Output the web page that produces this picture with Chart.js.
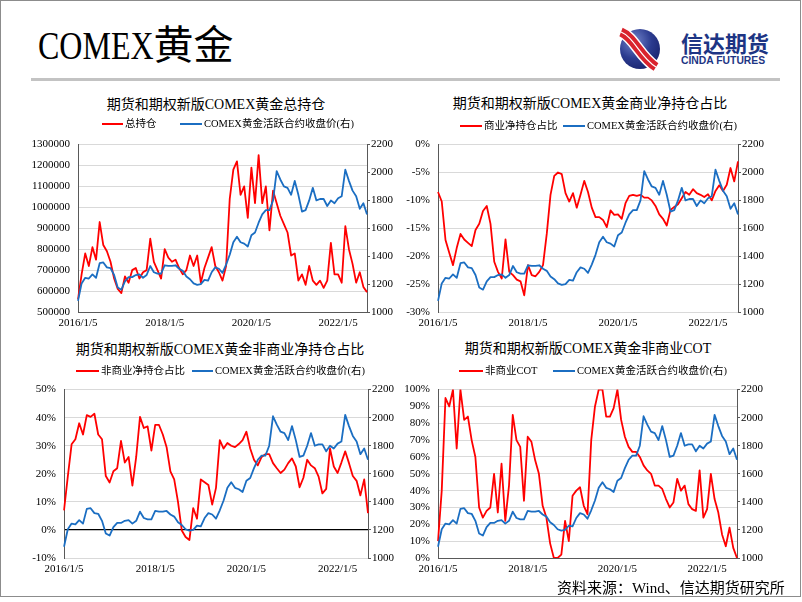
<!DOCTYPE html>
<html>
<head>
<meta charset="utf-8">
<script src="https://cdn.jsdelivr.net/npm/chart.js@4.4.0/dist/chart.umd.min.js"></script>
<style>
  body { margin: 0; width: 802px; height: 602px; overflow: hidden; position: relative; background: #fff;
         font-family: "Liberation Serif", "Noto Sans CJK SC", serif; color: #000; }
  .frame { position: absolute; left: 0; top: 0; width: 801px; height: 597px; box-sizing: border-box; border: 1.5px solid #8c8c8c; }
  .main-title { position: absolute; left: 38px; top: 22px; font-size: 40px; line-height: 48px; white-space: nowrap; }
  .main-title .lat { display: inline-block; transform: scaleX(0.8); transform-origin: left center; margin-right: -29px; }
  .rule { position: absolute; left: 31px; top: 78px; width: 749px; height: 3px; background: #c3c3c3; }
  .logo { position: absolute; left: 618px; top: 27px; }
  .brand { position: absolute; left: 681px; top: 30px; font-family: "Noto Sans CJK SC", sans-serif; font-weight: bold;
           font-size: 22px; line-height: 24px; color: #1d3584; white-space: nowrap; }
  .brand-en { position: absolute; left: 681px; top: 54px; font-family: "Liberation Sans Narrow", "Liberation Sans", sans-serif;
              font-weight: bold; font-size: 11.5px; line-height: 13px; color: #1d3584; white-space: nowrap;
              transform: scaleX(0.9); transform-origin: left center; }
  .ctitle { position: absolute; font-size: 14px; line-height: 16px; white-space: nowrap; transform: translateX(-50%); }
  .lg-line { position: absolute; height: 2px; }
  .lg-text { position: absolute; font-size: 10.5px; line-height: 14px; white-space: nowrap; }
  canvas { position: absolute; }
  .source { position: absolute; left: 557px; top: 579px; font-size: 15px; line-height: 18px; white-space: nowrap; }
</style>
</head>
<body>
<div class="frame"></div>
<div class="main-title"><span class="lat">COMEX</span>黄金</div>
<svg class="logo" width="44" height="44" viewBox="0 0 44 44">
  <defs>
    <radialGradient id="sphere" cx="0.35" cy="0.3" r="0.8">
      <stop offset="0" stop-color="#7486cc"/>
      <stop offset="0.55" stop-color="#2b3b8f"/>
      <stop offset="1" stop-color="#17216a"/>
    </radialGradient>
  </defs>
  <circle cx="22" cy="22" r="20" fill="url(#sphere)"/>
  <path d="M3 5 C 16 10, 22 30, 38 40" stroke="#ffffff" stroke-width="12" fill="none"/>
  <path d="M3 5 C 16 10, 22 30, 38 40" stroke="#d9232d" stroke-width="9" fill="none"/>
  <path d="M3 5 C 16 10, 22 30, 38 40" stroke="#ffffff" stroke-width="1.2" fill="none"/>
</svg>
<div class="brand">信达期货</div>
<div class="brand-en">CINDA FUTURES</div>
<div class="rule"></div>

<div class="ctitle" style="left:216px; top:97px;">期货和期权新版COMEX黄金总持仓</div>
<div class="ctitle" style="left:590px; top:96px;">期货和期权新版COMEX黄金商业净持仓占比</div>
<div class="ctitle" style="left:220px; top:342px;">期货和期权新版COMEX黄金非商业净持仓占比</div>
<div class="ctitle" style="left:588px; top:341px;">期货和期权新版COMEX黄金非商业COT</div>

<canvas id="c1" width="400" height="205" style="left:0px; top:130px;"></canvas>
<canvas id="c2" width="400" height="205" style="left:400px; top:130px;"></canvas>
<canvas id="c3" width="400" height="205" style="left:0px; top:375px;"></canvas>
<canvas id="c4" width="400" height="205" style="left:400px; top:375px;"></canvas>

<div class="source">资料来源：Wind、信达期货研究所</div>

<script>
// monthly points, 2016/1 .. 2022/9
const dates = [];
for (let m = 0; m < 81; m++) {
  dates.push((2016 + Math.floor(m / 12)) + '/' + (m % 12 + 1) + '/5');
}
const xTickLabels = ['2016/1/5', '2018/1/5', '2020/1/5', '2022/1/5'];

const goldLabel = 'COMEX黄金活跃合约收盘价(右)';
const goldPrice = [
  1080, 1205, 1245, 1240, 1270, 1245, 1350, 1355, 1320, 1315, 1265, 1175, 1160,
  1220, 1250, 1250, 1265, 1270, 1245, 1265, 1330, 1285, 1275, 1275, 1335,
  1330, 1330, 1335, 1310, 1295, 1255, 1235, 1205, 1195, 1200, 1230, 1225,
  1285, 1320, 1310, 1280, 1340, 1410, 1500, 1540, 1500, 1490, 1470, 1550,
  1570, 1640, 1700, 1730, 1730, 1800, 2010, 1950, 1900, 1890, 1840, 1940,
  1840, 1720, 1730, 1800, 1890, 1800, 1810, 1810, 1760, 1800, 1780, 1815,
  1830, 2020, 1940, 1870, 1830, 1740, 1780, 1700
];
const goldTicks = [1000, 1200, 1400, 1600, 1800, 2000, 2200];

const totalOI = [
  560000, 680000, 780000, 720000, 810000, 750000, 930000, 820000, 790000, 740000, 660000, 610000, 590000,
  670000, 640000, 700000, 710000, 660000, 690000, 700000, 850000, 740000, 700000, 660000, 800000,
  760000, 740000, 750000, 710000, 680000, 700000, 770000, 720000, 770000, 640000, 710000, 760000,
  810000, 720000, 690000, 650000, 720000, 1040000, 1180000, 1220000, 1060000, 1100000, 950000, 1190000,
  1020000, 1250000, 1020000, 1100000, 890000, 1080000, 1020000, 960000, 920000, 880000, 770000, 780000,
  650000, 680000, 630000, 720000, 650000, 630000, 650000, 615000, 650000, 830000, 680000, 680000,
  640000, 910000, 800000, 730000, 640000, 690000, 620000, 595000
];
const oiTicks = [500000, 600000, 700000, 800000, 900000, 1000000, 1100000, 1200000, 1300000];

const commNet = [
  -8.5, -10.2, -17.1, -19.4, -21.6, -18.5, -16, -17, -17.6, -18.2, -15.3, -14.2, -11.9,
  -11, -14.2, -21, -22.8, -24, -17, -22.8, -23.4, -24.2, -24.5, -27, -21.6,
  -23.4, -23.6, -22.8, -21.6, -16, -9, -5.6, -5, -5.3, -8.7, -10.2, -8.7,
  -11.3, -9, -6.5, -8.5, -11.3, -13, -13, -13.5, -14.8, -11.8, -12.6, -12.5,
  -13.3, -10.5, -9.2, -9, -9.2, -9, -9.5, -9.5, -10, -11, -12.5, -13.3,
  -14.5, -11.7, -11.2, -10.7, -9.6, -8.5, -9, -8, -8.7, -9, -9.4, -8.9,
  -10, -8.3, -7.3, -8.3, -7.2, -4.2, -6.6, -3
];
const commTicks = [-30, -25, -20, -15, -10, -5, 0];

const nonCommNet = [
  7, 19, 30.5, 32.3, 38, 34, 40.9, 40.3, 41.4, 34, 32.3, 19.2, 16.9,
  20.9, 22, 31.7, 24, 26, 15.8, 26, 40.3, 36.3, 36.9, 28.3, 37.4,
  37.4, 34, 29.5, 20.9, 18, 10, -0.2, -2.5, -3.6, 7.8, 4, 18,
  17, 16, 9, 15, 32, 29, 31, 30, 29.5, 30.6, 32, 35,
  29, 25, 23, 26, 27, 27, 23.8, 22, 20.3, 21.5, 23.8, 25.5,
  22.6, 15.2, 18.6, 25, 23, 22, 19, 13, 14.6, 29, 22.6, 20.3,
  24, 28, 23.8, 19.2, 17.5, 12.3, 18, 6
];
const nonCommTicks = [-10, 0, 10, 20, 30, 40, 50];

const nonCommCOT = [
  10, 40, 95, 90, 100, 65, 100, 82, 84, 70, 60, 30, 24,
  28, 30, 50, 27, 56, 22, 43, 85, 70, 66, 34, 72,
  69, 58, 50, 31, 24, 8.7, 0, 0, 2, 22, 10, 37,
  40, 42, 31, 26, 70, 90, 100, 100, 84, 84, 89, 100,
  82, 72, 66, 63, 63, 60, 55, 52, 50, 43, 43, 41,
  35, 30, 33, 47, 40, 43, 32, 29, 28, 52, 24, 29,
  50, 35, 27, 14, 7, 18, 6, 0
];
const cotTicks = [0, 10, 20, 30, 40, 50, 60, 70, 80, 90, 100];

const RED = '#ff0000';
const BLUE = '#1b6ec2';
const AXIS = '#595959';
const GRID = '#d9d9d9';

Chart.defaults.font.family = '"Liberation Serif", "Times New Roman", serif';
Chart.defaults.font.size = 11;
Chart.defaults.color = '#000';

const buildChart = (id, o) => {
  return new Chart(document.getElementById(id), {
    type: 'line',
    data: {
      labels: dates,
      datasets: [
        { label: o.redLabel, data: o.red, borderColor: RED, yAxisID: 'y', order: 1 },
        { label: goldLabel, data: goldPrice, borderColor: BLUE, yAxisID: 'y1', order: 0 }
      ]
    },
    options: {
      responsive: false,
      animation: false,
      devicePixelRatio: 1,
      layout: { padding: { top: o.padTop, left: 0, right: 0, bottom: 0 } },
      elements: {
        point: { radius: 0 },
        line: { borderWidth: 1.8, tension: 0, borderJoinStyle: 'round' }
      },
      plugins: { legend: { display: false }, tooltip: { enabled: false } },
      scales: {
        x: {
          grid: { display: false, drawTicks: false },
          border: { display: true, color: o.xBorder || AXIS, width: 1 },
          ticks: {
            autoSkip: false, maxRotation: 0, minRotation: 0, padding: 5,
            callback: (v, i) => xTickLabels.includes(dates[i]) ? dates[i] : null
          },
          afterFit: s => { s.height = o.xHeight; }
        },
        y: {
          position: 'left',
          min: o.ticks[0], max: o.ticks[o.ticks.length - 1],
          afterBuildTicks: s => { s.ticks = o.ticks.map(v => ({ value: v })); },
          grid: {
            color: o.gridColor || GRID,
            lineWidth: o.gridWidth || 1,
            drawTicks: false
          },
          border: { display: true, color: AXIS, width: 1 },
          ticks: { padding: 8, callback: o.fmt },
          afterFit: s => { s.width = o.yWidth; }
        },
        y1: {
          position: 'right',
          min: 1000, max: 2200,
          afterBuildTicks: s => { s.ticks = goldTicks.map(v => ({ value: v })); },
          grid: { drawOnChartArea: false, drawTicks: true, tickLength: 3, color: AXIS },
          border: { display: true, color: AXIS, width: 1 },
          ticks: { padding: 1, callback: v => String(v) },
          afterFit: s => { s.width = o.y1Width; }
        }
      }
    }
  });
};

const charts = [
  buildChart('c1', { redLabel: '总持仓', red: totalOI, ticks: oiTicks, fmt: v => String(v),
    padTop: 5, yWidth: 78, y1Width: 33, xHeight: 23 }),
  buildChart('c2', { redLabel: '商业净持仓占比', red: commNet, ticks: commTicks, fmt: v => v + '%',
    padTop: 8, yWidth: 38, y1Width: 62, xHeight: 23, xBorder: GRID }),
  buildChart('c3', { redLabel: '非商业净持仓占比', red: nonCommNet, ticks: nonCommTicks, fmt: v => v + '%',
    padTop: 7, yWidth: 64, y1Width: 32, xHeight: 22, xBorder: GRID,
    gridColor: c => (c.tick && c.tick.value === 0) ? '#000' : GRID,
    gridWidth: c => (c.tick && c.tick.value === 0) ? 1.3 : 1 }),
  buildChart('c4', { redLabel: '非商业COT', red: nonCommCOT, ticks: cotTicks, fmt: v => v + '%',
    padTop: 7, yWidth: 38, y1Width: 63, xHeight: 22 })
];

// legends: [chart, y centre, [lineStart, lineEnd, textX] per dataset]
const legendSpots = [
  [0, 124, [[102, 123, 125], [180, 202, 204]]],
  [1, 126, [[460, 482, 484], [563, 585, 587]]],
  [2, 371, [[76, 99, 101], [192, 213, 215]]],
  [3, 371, [[459, 483, 485], [553, 575, 577]]]
];
legendSpots.forEach(([ci, cy, spots]) => {
  charts[ci].data.datasets.forEach((ds, k) => {
    const [x0, x1, tx] = spots[k];
    const line = document.createElement('div');
    line.className = 'lg-line';
    line.style.cssText = `left:${x0}px; width:${x1 - x0}px; top:${cy - 1}px; background:${ds.borderColor};`;
    const txt = document.createElement('div');
    txt.className = 'lg-text';
    txt.style.cssText = `left:${tx}px; top:${cy - 7}px;`;
    txt.textContent = ds.label;
    document.body.appendChild(line);
    document.body.appendChild(txt);
  });
});
</script>
</body>
</html>
